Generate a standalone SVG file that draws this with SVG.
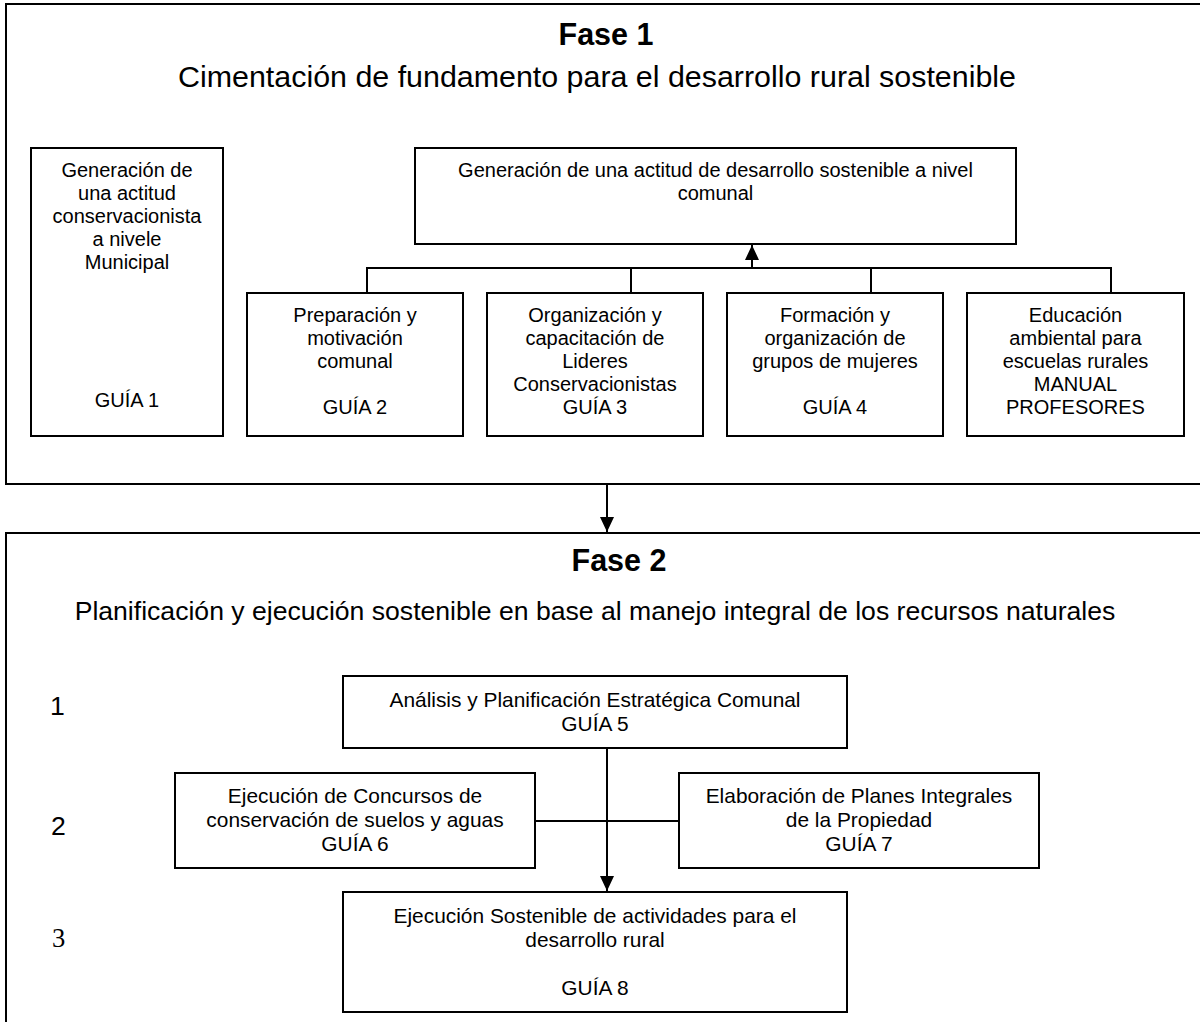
<svg xmlns="http://www.w3.org/2000/svg" width="1200" height="1022" viewBox="0 0 1200 1022">
<defs>
<style>
.frame{fill:none;stroke:#000;stroke-width:2}
.box{fill:#fff;stroke:#000;stroke-width:2}
.ln{fill:none;stroke:#000;stroke-width:2}
text{font-family:"Liberation Sans",Arial,sans-serif;fill:#000;text-anchor:middle}
.t20{font-size:20px}
.t21{font-size:20.9px}
.title{font-size:30.5px;font-weight:bold}
.sub1{font-size:30.4px}
.sub2{font-size:26.6px}
.num{font-size:26.6px;text-anchor:start}
.numser{font-family:"Liberation Serif","Times New Roman",serif;font-size:26.6px;text-anchor:start}
</style>
<marker id="arr" markerUnits="userSpaceOnUse" markerWidth="15" markerHeight="14" refX="15" refY="7" orient="auto">
<path d="M0,0 L15,7 L0,14 z" fill="#000"/>
</marker>
</defs>
<rect width="1200" height="1022" fill="#fff"/>

<g id="fase1">
<rect class="frame" x="6" y="4" width="1200" height="480"/>
<text class="title" x="606" y="45">Fase 1</text>
<text class="sub1" x="597" y="87">Cimentación de fundamento para el desarrollo rural sostenible</text>
</g>

<g id="fase2">
<rect class="frame" x="6" y="533" width="1200" height="500"/>
<text class="title" x="619" y="571">Fase 2</text>
<text class="sub2" x="595" y="620">Planificación y ejecución sostenible en base al manejo integral de los recursos naturales</text>
<text class="num" x="50" y="715">1</text>
<text class="num" x="51" y="835">2</text>
<text class="numser" x="52" y="947">3</text>
</g>

<g id="connectors">
<line class="ln" x1="367" y1="268" x2="1111" y2="268"/>
<line class="ln" x1="367" y1="267" x2="367" y2="293"/>
<line class="ln" x1="631" y1="267" x2="631" y2="293"/>
<line class="ln" x1="871" y1="267" x2="871" y2="293"/>
<line class="ln" x1="1111" y1="267" x2="1111" y2="293"/>
<line class="ln" x1="752" y1="268" x2="752" y2="245" marker-end="url(#arr)"/>
<line class="ln" x1="607" y1="485" x2="607" y2="532" marker-end="url(#arr)"/>
<line class="ln" x1="607" y1="749" x2="607" y2="891" marker-end="url(#arr)"/>
<line class="ln" x1="535" y1="821" x2="679" y2="821"/>
</g>

<g id="n-guia1">
<rect class="box" x="31" y="148" width="192" height="288"/>
<text class="t20"><tspan x="127" y="177">Generación de</tspan><tspan x="127" y="200">una actitud</tspan><tspan x="127" y="223">conservacionista</tspan><tspan x="127" y="246">a nivele</tspan><tspan x="127" y="269">Municipal</tspan><tspan x="127" y="407">GUÍA 1</tspan></text>
</g>

<g id="n-comunal">
<rect class="box" x="415" y="148" width="601" height="96"/>
<text class="t20"><tspan x="715.5" y="177">Generación de una actitud de desarrollo sostenible a nivel</tspan><tspan x="715.5" y="200">comunal</tspan></text>
</g>

<g id="n-guia2">
<rect class="box" x="247" y="293" width="216" height="143"/>
<text class="t20"><tspan x="355" y="322">Preparación y</tspan><tspan x="355" y="345">motivación</tspan><tspan x="355" y="368">comunal</tspan><tspan x="355" y="414">GUÍA 2</tspan></text>
</g>

<g id="n-guia3">
<rect class="box" x="487" y="293" width="216" height="143"/>
<text class="t20"><tspan x="595" y="322">Organización y</tspan><tspan x="595" y="345">capacitación de</tspan><tspan x="595" y="368">Lideres</tspan><tspan x="595" y="391">Conservacionistas</tspan><tspan x="595" y="414">GUÍA 3</tspan></text>
</g>

<g id="n-guia4">
<rect class="box" x="727" y="293" width="216" height="143"/>
<text class="t20"><tspan x="835" y="322">Formación y</tspan><tspan x="835" y="345">organización de</tspan><tspan x="835" y="368">grupos de mujeres</tspan><tspan x="835" y="414">GUÍA 4</tspan></text>
</g>

<g id="n-manual">
<rect class="box" x="967" y="293" width="217" height="143"/>
<text class="t20"><tspan x="1075.5" y="322">Educación</tspan><tspan x="1075.5" y="345">ambiental para</tspan><tspan x="1075.5" y="368">escuelas rurales</tspan><tspan x="1075.5" y="391">MANUAL</tspan><tspan x="1075.5" y="414">PROFESORES</tspan></text>
</g>

<g id="n-guia5">
<rect class="box" x="343" y="676" width="504" height="72"/>
<text class="t21"><tspan x="595" y="707">Análisis y Planificación Estratégica Comunal</tspan><tspan x="595" y="731">GUÍA 5</tspan></text>
</g>

<g id="n-guia6">
<rect class="box" x="175" y="773" width="360" height="95"/>
<text class="t21"><tspan x="355" y="803">Ejecución de Concursos de</tspan><tspan x="355" y="827">conservación de suelos y aguas</tspan><tspan x="355" y="851">GUÍA 6</tspan></text>
</g>

<g id="n-guia7">
<rect class="box" x="679" y="773" width="360" height="95"/>
<text class="t21"><tspan x="859" y="803">Elaboración de Planes Integrales</tspan><tspan x="859" y="827">de la Propiedad</tspan><tspan x="859" y="851">GUÍA 7</tspan></text>
</g>

<g id="n-guia8">
<rect class="box" x="343" y="892" width="504" height="120"/>
<text class="t21"><tspan x="595" y="923">Ejecución Sostenible de actividades para el</tspan><tspan x="595" y="947">desarrollo rural</tspan><tspan x="595" y="995">GUÍA 8</tspan></text>
</g>
</svg>
